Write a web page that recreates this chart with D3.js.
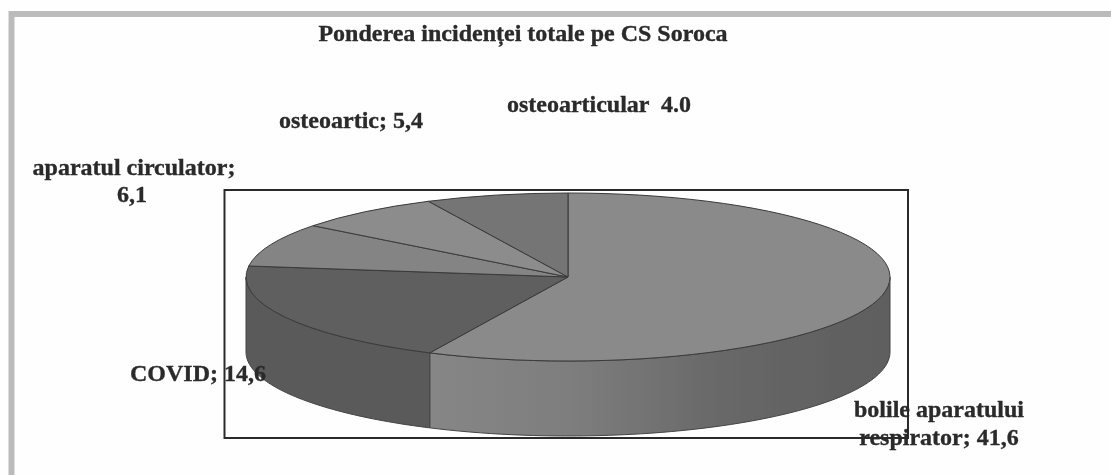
<!DOCTYPE html>
<html><head><meta charset="utf-8">
<script src="https://cdn.jsdelivr.net/npm/d3@7"></script>
<style>html,body{margin:0;background:#fff}svg{display:block}text{font-family:"Liberation Serif",serif;font-weight:bold;fill:#2a2a2a;stroke:#2a2a2a;stroke-width:.35px}</style>
</head><body><div id="c"></div>
<script>
const categories=["bolile aparatului respirator","COVID","aparatul circulator","osteoartic","osteoarticular"];
// drawn slice sizes (the last wedge is drawn larger than its printed 4.0)
const values=[41.6,14.6,6.1,5.4,5.2];
const topColors=["#8a8a8a","#5f5f5f","#848484","#8c8c8c","#747474"];
const sideColors=["#6f6f6f","#5a5a5a","#666","#707070","#555"];
const W=1111,H=475;
const cx=568,cy=277,rx=322,ry=84,depth=75;
const svg=d3.select("#c").append("svg").attr("width",W).attr("height",H);
const defs=svg.append("defs");
defs.append("filter").attr("id","b").append("feGaussianBlur").attr("stdDeviation",0.6);
const grad=defs.append("linearGradient").attr("id","front").attr("x1",0).attr("x2",1).attr("y1",0).attr("y2",0);
[[0,"#868686"],[0.3,"#7e7e7e"],[0.65,"#676767"],[1,"#5e5e5e"]].forEach(d=>grad.append("stop").attr("offset",d[0]).attr("stop-color",d[1]));
const root=svg.append("g").attr("filter","url(#b)");
root.append("rect").attr("x",0).attr("y",0).attr("width",W).attr("height",H).attr("fill","#fefefe");
root.append("path").attr("d",`M11.5 ${H} V14 H${W}`).attr("fill","none").attr("stroke","#bbb").attr("stroke-width",6);
root.append("rect").attr("x",224.5).attr("y",190).attr("width",683.5).attr("height",248).attr("fill","none").attr("stroke","#2a2a2a").attr("stroke-width",2);

const pie=d3.pie().sort(null).value(d=>d)(values);
const pt=(a,dy=0)=>[cx+rx*Math.sin(a),cy-ry*Math.cos(a)+dy];
const sideLine=d3.line();
pie.forEach((s,i)=>{
  const a0=Math.max(s.startAngle,Math.PI/2),a1=Math.min(s.endAngle,Math.PI*1.5);
  if(a1<=a0)return;
  const steps=d3.range(0,61).map(k=>a0+(a1-a0)*k/60);
  const pts=[...steps.map(a=>pt(a)),...steps.slice().reverse().map(a=>pt(a,depth))];
  root.append("path").attr("d",sideLine(pts)+"Z").attr("fill",i===0?"url(#front)":sideColors[i]).attr("stroke","#444").attr("stroke-width",1);
});
const arc=d3.arc().innerRadius(0).outerRadius(rx);
const face=root.append("g").attr("transform",`translate(${cx},${cy}) scale(1,${ry/rx})`);
face.selectAll("path").data(pie).join("path").attr("d",arc).attr("fill",(d,i)=>topColors[i]).attr("stroke","#3a3a3a").attr("stroke-width",1).attr("vector-effect","non-scaling-stroke");

const title=[["Ponderea incidenței totale pe CS Soroca",523,41,24]];
const labels=[
 ["osteoarticular  4.0",599,112],
 ["osteoartic; 5,4",351,128],
 ["aparatul circulator;",134,175],
 ["6,1",132,202],
 ["COVID; 14,6",198,381],
 ["bolile aparatului",939,417],
 ["respirator; 41,6",939,445]];
root.selectAll("text.t").data(title).join("text").attr("class","t").attr("x",d=>d[1]).attr("y",d=>d[2]).attr("text-anchor","middle").attr("font-size",d=>d[3]).text(d=>d[0]);
root.selectAll("text.l").data(labels).join("text").attr("class","l").attr("x",d=>d[1]).attr("y",d=>d[2]).attr("text-anchor","middle").attr("font-size",24).style("white-space","pre").text(d=>d[0]);
</script></body></html>
